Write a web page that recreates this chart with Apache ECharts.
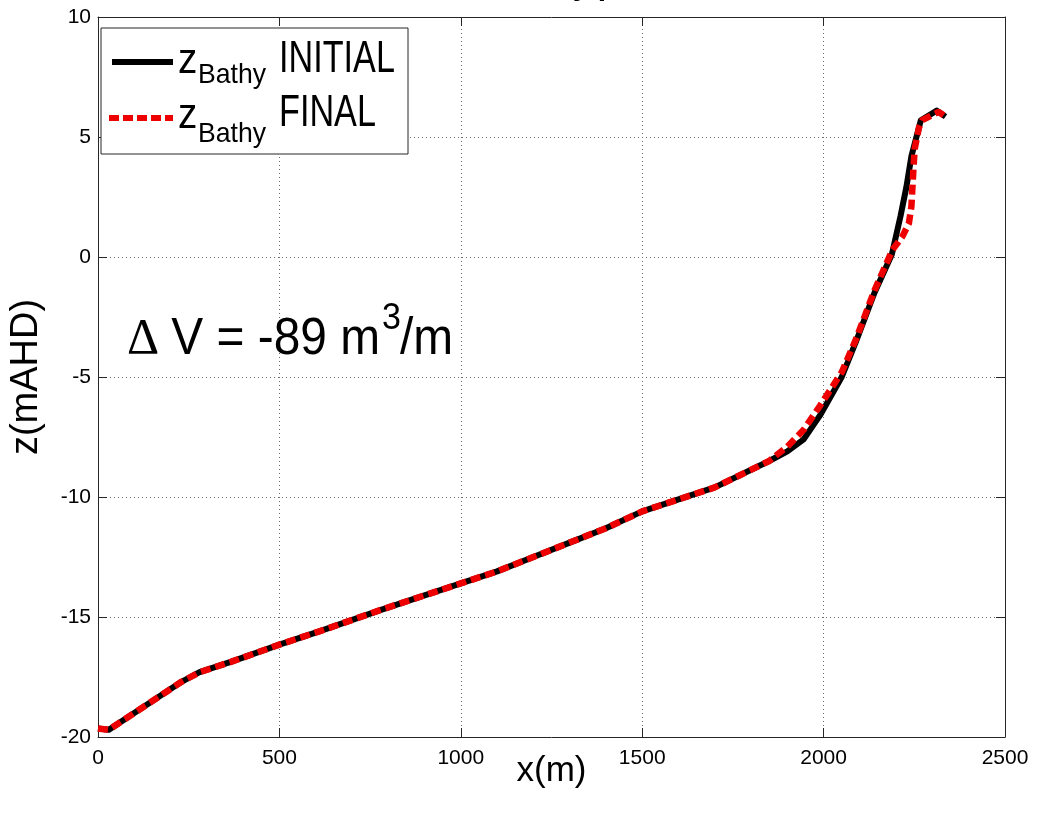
<!DOCTYPE html>
<html>
<head>
<meta charset="utf-8">
<script src="https://cdn.jsdelivr.net/npm/echarts@6/dist/echarts.min.js"></script>
<style>
html,body{margin:0;padding:0;background:#fff;}
#chart{width:1038px;height:816px;}
</style>
</head>
<body>
<div id="chart"></div>
<script>
// ---- data ----
const xInitial = [0, 30, 80, 150, 230, 280, 370, 500, 610, 780, 900, 1000, 1100, 1200, 1300, 1400, 1500, 1600, 1700, 1850, 1900, 1945, 1990, 2050, 2090, 2140, 2188, 2212, 2228, 2242, 2268, 2312, 2336];
const zInitial = [-19.65, -19.7, -19.2, -18.5, -17.7, -17.3, -16.85, -16.15, -15.6, -14.7, -14.1, -13.6, -13.1, -12.5, -11.9, -11.3, -10.6, -10.1, -9.6, -8.5, -8.1, -7.6, -6.6, -5.0, -3.5, -1.5, 0.1, 1.7, 2.9, 4.2, 5.7, 6.1, 5.85];
const xFinal = [0, 30, 80, 150, 230, 280, 370, 500, 610, 780, 900, 1000, 1100, 1200, 1300, 1400, 1500, 1600, 1700, 1850, 1900, 1945, 1990, 2050, 2090, 2140, 2190, 2217, 2235, 2242, 2247, 2251, 2263, 2272, 2317, 2336];
const zFinal = [-19.65, -19.7, -19.2, -18.5, -17.7, -17.3, -16.85, -16.15, -15.6, -14.7, -14.1, -13.6, -13.1, -12.5, -11.9, -11.3, -10.6, -10.1, -9.6, -8.5, -7.9, -7.2, -6.2, -4.8, -3.4, -1.4, 0.3, 0.85, 1.4, 2.1, 3.5, 4.5, 5.4, 5.7, 6.05, 5.85];
const xTicks = {min: 0, max: 2500, interval: 500};
const yTicks = {min: -20, max: 10, interval: 5};
const seriesNames = ['INITIAL', 'FINAL'];
const titleText = 'Bathy profile';
const annotation = {delta: 'Δ', main: ' V = -89 m', sup: '3', tail: '/m'};
const xName = 'x(m)';
const yName = 'z(mAHD)';

const FONT = '"Liberation Sans", Arial, Helvetica, sans-serif';
const AX = '#262626';

function zip(xs, ys){ return xs.map((x, i) => [x, ys[i]]); }

const chart = echarts.init(document.getElementById('chart'), null, {renderer: 'canvas'});

const gridLine = {show: true, lineStyle: {color: '#6a6a6a', width: 1, type: [1, 3]}};

const option = {
  backgroundColor: '#ffffff',
  animation: false,
  grid: {left: 91, right: 33, top: 17, bottom: 79, containLabel: false},
  xAxis: [
    {
      type: 'value', position: 'bottom', min: xTicks.min, max: xTicks.max, interval: xTicks.interval,
      axisLine: {show: true, onZero: false, lineStyle: {color: AX, width: 1}},
      axisTick: {show: true, inside: true, length: 9, lineStyle: {color: AX}},
      axisLabel: {fontSize: 21, color: '#000', fontFamily: FONT, margin: 11, formatter: v => String(v)},
      splitLine: gridLine,
      name: xName, nameLocation: 'middle', nameGap: 17, nameMoveOverlap: false,
      nameTextStyle: {fontSize: 35, color: '#000', fontFamily: FONT, verticalAlign: 'top'}
    },
    {
      type: 'value', position: 'top', min: xTicks.min, max: xTicks.max, interval: xTicks.interval,
      axisLine: {show: true, onZero: false, lineStyle: {color: AX, width: 1}},
      axisTick: {show: true, inside: true, length: 9, lineStyle: {color: AX}},
      axisLabel: {show: false}, splitLine: {show: false}
    }
  ],
  yAxis: [
    {
      type: 'value', position: 'left', min: yTicks.min, max: yTicks.max, interval: yTicks.interval,
      axisLine: {show: true, onZero: false, lineStyle: {color: AX, width: 1}},
      axisTick: {show: true, inside: true, length: 9, lineStyle: {color: AX}},
      axisLabel: {fontSize: 21, color: '#000', fontFamily: FONT, margin: 7, formatter: v => String(v)},
      splitLine: gridLine,
      name: yName, nameLocation: 'middle', nameGap: 52, nameRotate: 90,
      nameTextStyle: {fontSize: 38, color: '#000', fontFamily: FONT}
    },
    {
      type: 'value', position: 'right', min: yTicks.min, max: yTicks.max, interval: yTicks.interval,
      axisLine: {show: true, onZero: false, lineStyle: {color: AX, width: 1}},
      axisTick: {show: true, inside: true, length: 9, lineStyle: {color: AX}},
      axisLabel: {show: false}, splitLine: {show: false}
    }
  ],
  series: [
    {
      name: seriesNames[0], type: 'line', xAxisIndex: 0, yAxisIndex: 0,
      data: zip(xInitial, zInitial), symbol: 'none', smooth: false,
      lineStyle: {color: '#000000', width: 6, join: 'round', cap: 'butt'}, z: 3
    },
    {
      name: seriesNames[1], type: 'line', xAxisIndex: 0, yAxisIndex: 0,
      data: zip(xFinal, zFinal), symbol: 'none', smooth: false,
      lineStyle: {color: '#ee0000', width: 6.5, type: [10, 5], cap: 'butt'}, z: 4
    }
  ],
  graphic: [
    // title (cut off at the top of the picture, as in the reference)
    {type: 'text', left: 506, top: -28, z: 10,
      style: {text: titleText, fontSize: 30, fontWeight: 'bold', fontFamily: FONT, fill: '#000'}},
    // legend box
    {type: 'rect', shape: {x: 101, y: 28, width: 307, height: 126}, z: 20,
      style: {fill: '#fff', stroke: AX, lineWidth: 1}},
    {type: 'line', shape: {x1: 112, y1: 62, x2: 173, y2: 62}, z: 21,
      style: {stroke: '#000', lineWidth: 6}},
    {type: 'line', shape: {x1: 109, y1: 118, x2: 173, y2: 118}, z: 21,
      style: {stroke: '#ee0000', lineWidth: 6, lineDash: [10, 4]}},
    {type: 'text', x: 178, y: 40, z: 21, scaleX: 0.92,
      style: {text: 'z', fontSize: 42, fontFamily: FONT, fill: '#000'}},
    {type: 'text', x: 198, y: 61, z: 21, scaleX: 0.95,
      style: {text: 'Bathy', fontSize: 28, fontFamily: FONT, fill: '#000'}},
    {type: 'text', x: 279, y: 37, z: 21, scaleX: 0.76,
      style: {text: seriesNames[0], fontSize: 45, fontFamily: FONT, fill: '#000'}},
    {type: 'text', x: 178, y: 95, z: 21, scaleX: 0.92,
      style: {text: 'z', fontSize: 42, fontFamily: FONT, fill: '#000'}},
    {type: 'text', x: 198, y: 120, z: 21, scaleX: 0.95,
      style: {text: 'Bathy', fontSize: 28, fontFamily: FONT, fill: '#000'}},
    {type: 'text', x: 279, y: 91, z: 21, scaleX: 0.76,
      style: {text: seriesNames[1], fontSize: 45, fontFamily: FONT, fill: '#000'}},
    // annotation
    {type: 'text', x: 127, y: 315, z: 21,
      style: {text: annotation.delta, fontSize: 50, fontFamily: '"Liberation Serif", serif', fill: '#000'}},
    {type: 'text', x: 158, y: 314, z: 21, scaleX: 0.92,
      style: {text: annotation.main, fontSize: 52, fontFamily: FONT, fill: '#000'}},
    {type: 'text', x: 382, y: 300, z: 21, scaleX: 0.92,
      style: {text: annotation.sup, fontSize: 37, fontFamily: FONT, fill: '#000'}},
    {type: 'text', x: 400, y: 314, z: 21, scaleX: 0.92,
      style: {text: annotation.tail, fontSize: 52, fontFamily: FONT, fill: '#000'}}
  ]
};
chart.setOption(option);
</script>
</body>
</html>
